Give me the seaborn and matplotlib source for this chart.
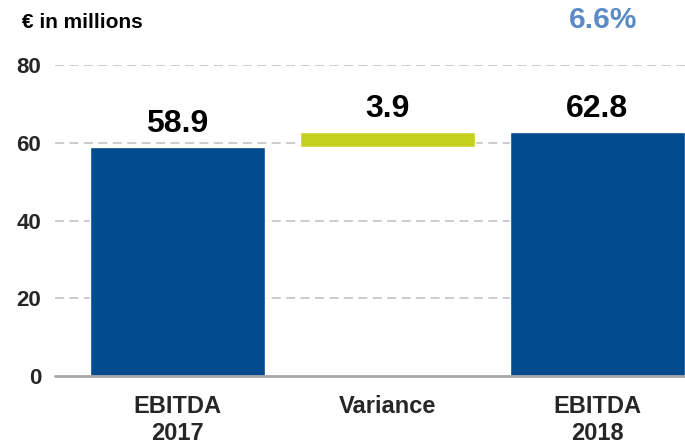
import matplotlib
matplotlib.use("Agg")
import matplotlib.pyplot as plt
import seaborn as sns
import pandas as pd

categories = ["EBITDA\n2017", "Variance", "EBITDA\n2018"]
totals = [58.9, 0.0, 62.8]
variance_base = 58.9
variance_value = 3.9
labels = ["58.9", "3.9", "62.8"]
growth_label = "6.6%"
yticks = [0, 20, 40, 60, 80]

sns.set_theme(style="white")
plt.rcParams["font.family"] = ["Liberation Sans", "DejaVu Sans"]
plt.rcParams["font.weight"] = "bold"

blue = "#004B8D"
green = "#C5D11F"

fig = plt.figure(figsize=(6.85, 4.44), dpi=100)
ax = fig.add_axes([55 / 685, 68 / 444, 1 - 55 / 685, 311 / 444])

df = pd.DataFrame({"cat": categories, "val": totals})
sns.barplot(data=df, x="cat", y="val", color=blue, width=0.833, ax=ax,
            saturation=1, zorder=3)
ax.bar([1], [variance_value], bottom=[variance_base], width=0.833,
       color=green, zorder=3)

ax.set_xlim(-0.583, 2.417)
ax.set_ylim(0, 80)
ax.set_yticks(yticks)
ax.set_yticklabels([str(t) for t in yticks], fontsize=16, fontweight="bold")
ax.tick_params(axis="y", length=0, pad=10)
ax.tick_params(axis="x", length=0, pad=14, labelsize=17)
for t in ax.get_xticklabels():
    t.set_fontweight("bold")
ax.set_xlabel("")
ax.set_ylabel("")

for y in yticks[1:]:
    ax.axhline(y, color="#C8C8C8", lw=1.3, ls=(0, (5, 3)), zorder=1)
ax.axhline(0, color="#A6A6A6", lw=2, zorder=4, clip_on=False)
for s in ax.spines.values():
    s.set_visible(False)

tops = [totals[0], variance_base + variance_value, totals[2]]
for i, (top, lab) in enumerate(zip(tops, labels)):
    ax.annotate(lab, (i, top), xytext=(0, 6), textcoords="offset points",
                ha="center", va="bottom", fontsize=23, fontweight="bold",
                color="black")

fig.text(22 / 685, 1 - 22 / 444, "€ in millions", ha="left", va="center",
         fontsize=15, fontweight="bold", color="black")
fig.text(603 / 685, 1 - 20 / 444, growth_label, ha="center", va="center",
         fontsize=21.5, fontweight="bold", color="#5B8BC6")

fig.savefig("out.png", dpi=100)
